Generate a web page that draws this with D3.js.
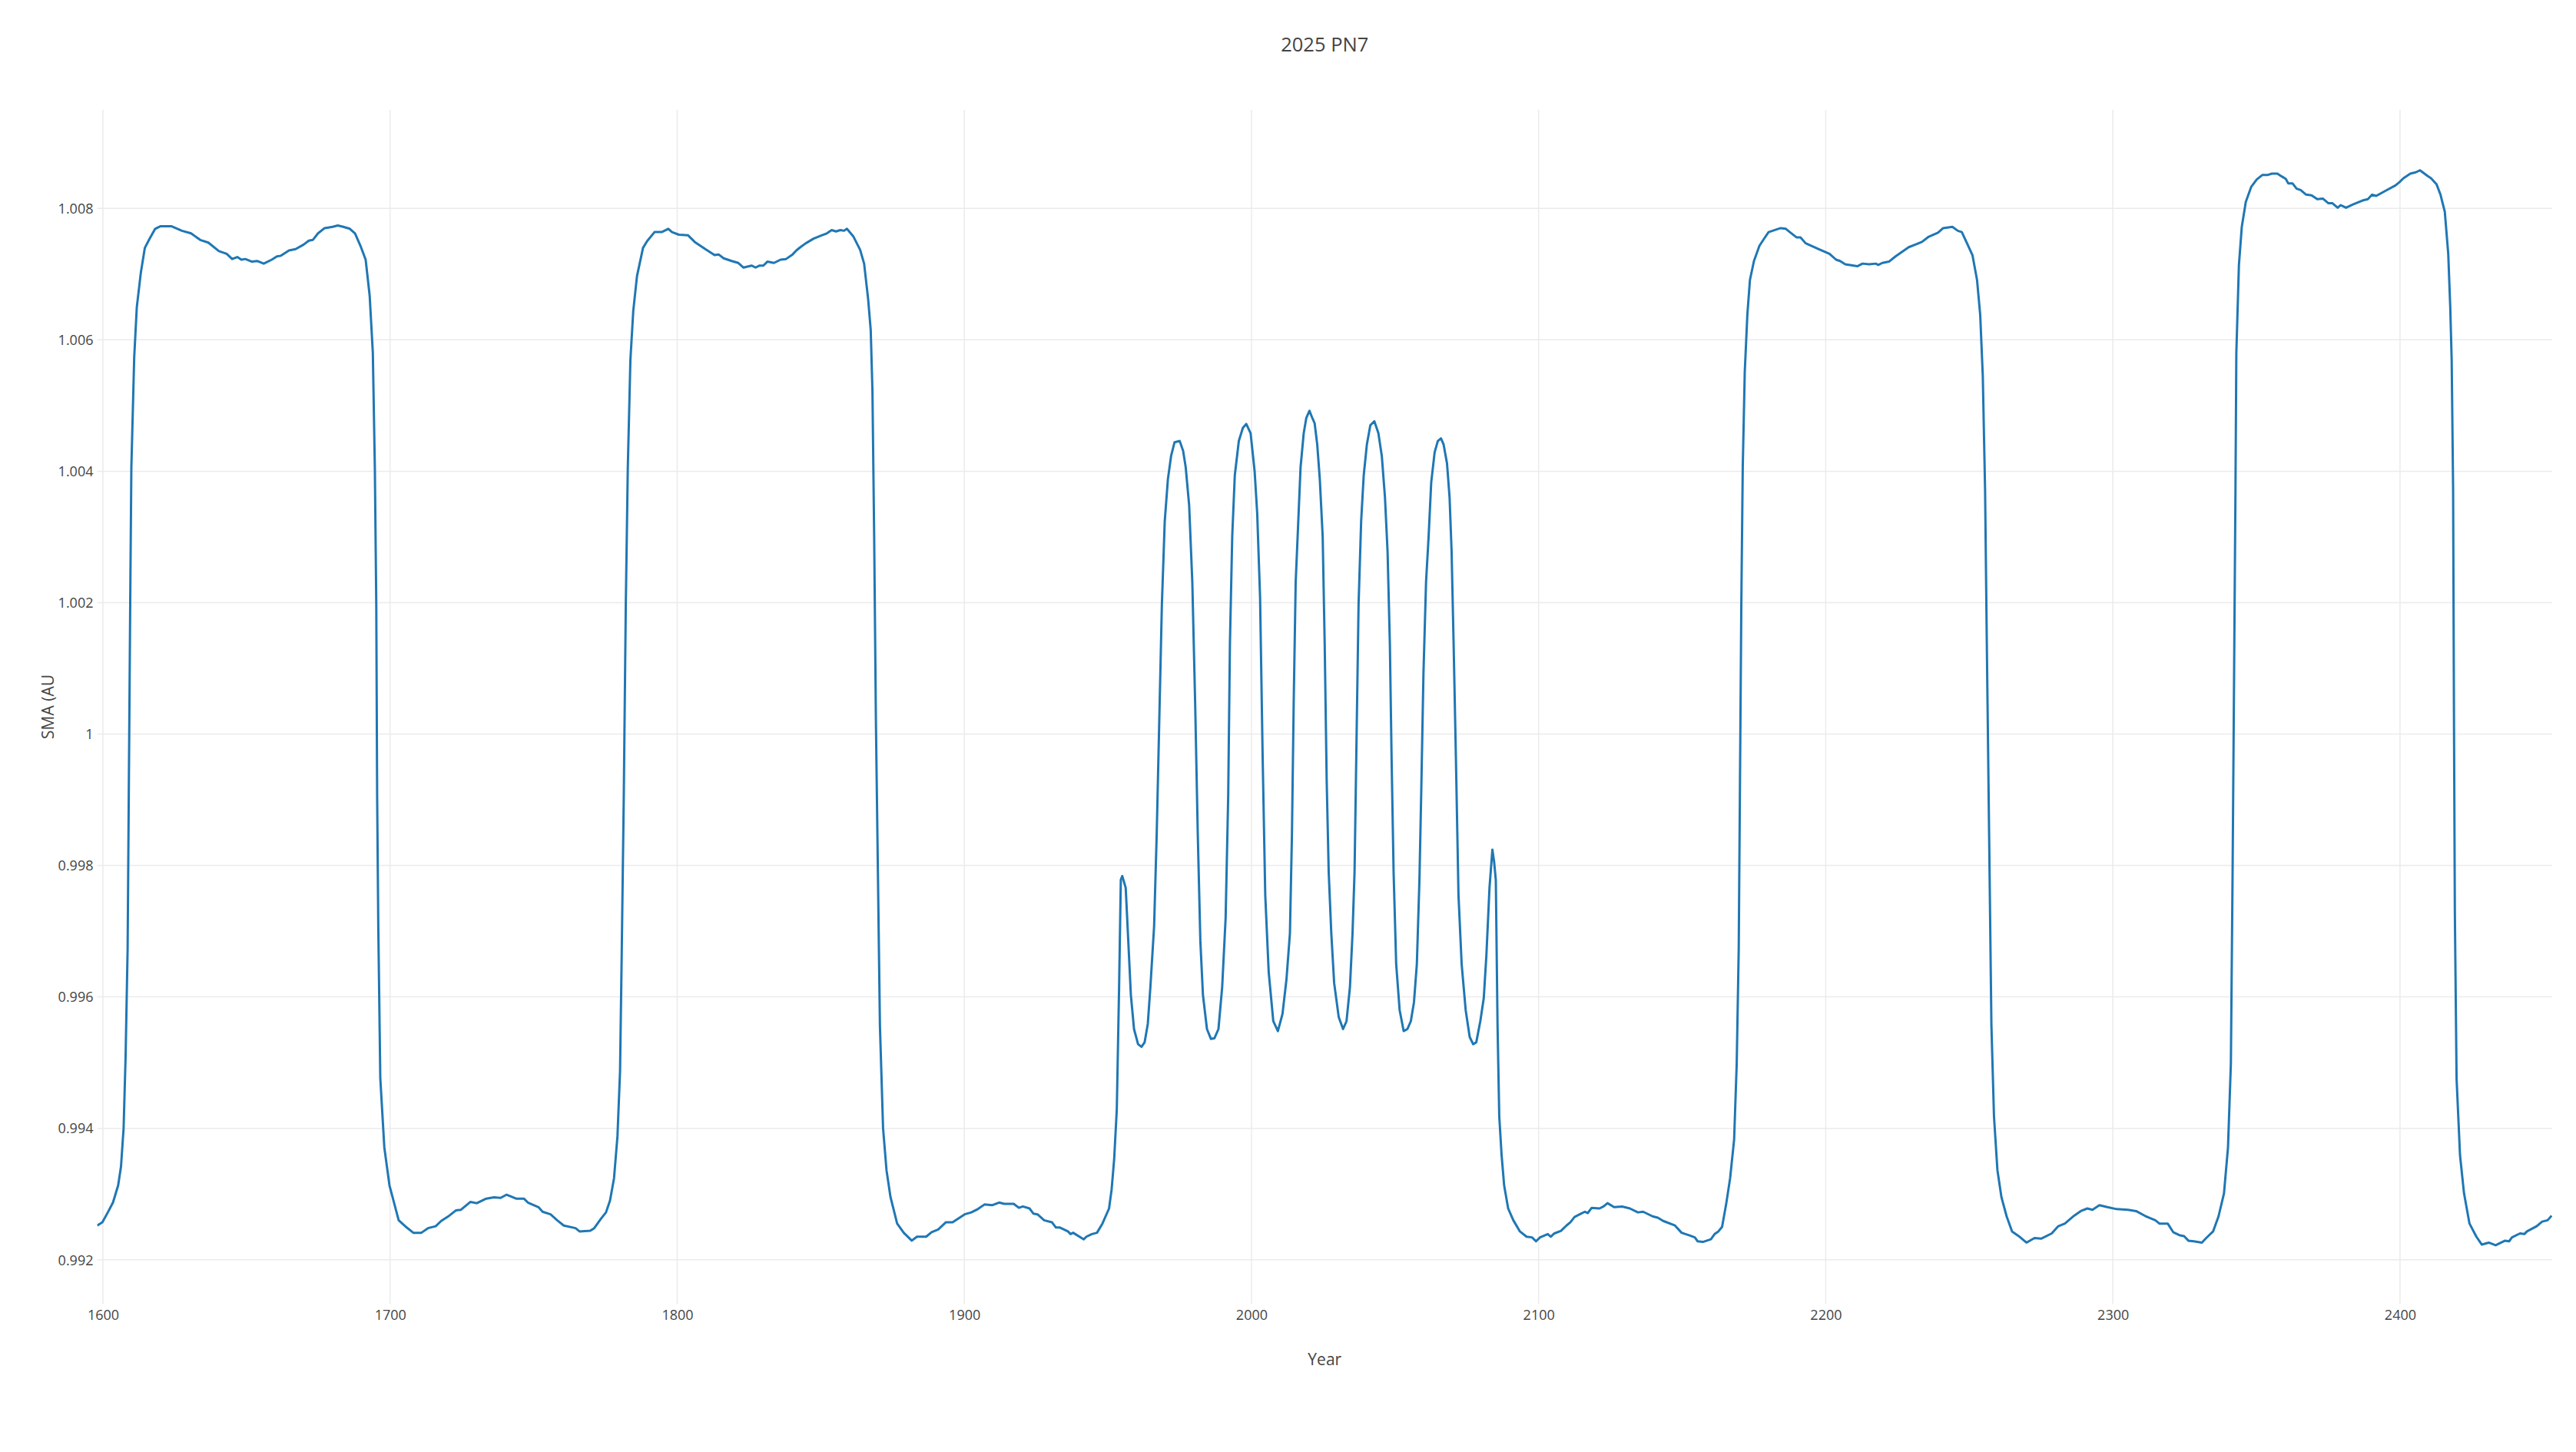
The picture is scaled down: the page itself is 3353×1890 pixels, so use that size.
<!DOCTYPE html>
<html>
<head>
<meta charset="utf-8">
<script src="https://cdn.jsdelivr.net/npm/d3@7"></script>
<style>
  html, body { margin: 0; padding: 0; background: #fff; }
  svg { display: block; font-family: "Open Sans", verdana, arial, sans-serif; }
</style>
</head>
<body>
<svg id="chart" width="3353" height="1890"></svg>
<script>
const chartTitle = "2025 PN7";
const xTitle = "Year";
const yTitle = "SMA (AU";

const xTicks = [1600, 1700, 1800, 1900, 2000, 2100, 2200, 2300, 2400];
const yTicks = [0.992, 0.994, 0.996, 0.998, 1.000, 1.002, 1.004, 1.006, 1.008];

const years = [
1598.0,1599.8,1601.7,1603.5,1605.3,1606.3,1607.2,1607.9,1608.6,1609.0,1609.5,1609.9,1610.9,1611.8,1613.2,1614.6,1616.4,1618.2,1620.1,1623.8,
1627.5,1630.7,1633.9,1636.7,1640.4,1643.1,1645.0,1646.8,1648.2,1649.6,1651.9,1653.7,1656.0,1658.8,1660.6,1662.0,1664.8,1667.1,1669.9,1671.7,
1673.1,1674.9,1677.2,1680.0,1681.8,1683.7,1686.0,1687.8,1689.7,1691.5,1692.9,1694.0,1694.7,1695.2,1695.5,1695.9,1696.6,1698.0,1699.8,1703.0,
1705.8,1708.1,1710.9,1713.2,1715.9,1717.8,1720.6,1722.9,1724.7,1728.0,1730.2,1733.5,1736.2,1738.5,1740.6,
1743.9,1746.6,1748.0,1751.7,1753.1,1755.9,1758.2,1760.5,1764.6,1766.0,1769.7,1771.1,1773.4,1775.2,1776.6,1778.0,1779.2,1780.1,1780.7,1781.4,
1782.1,1782.8,1783.7,1784.7,1786.0,1788.1,1789.5,1792.1,1794.6,1796.9,1798.2,1800.6,1803.8,1806.1,1809.8,1813.0,1814.4,1816.2,1819.0,1821.3,
1823.1,1825.9,1827.3,1828.7,1830.0,1831.4,1833.7,1836.0,1837.9,1840.2,1841.5,1842.9,1844.8,1847.5,1850.3,1852.1,1853.8,1855.3,1856.8,1858.1,
1859.1,1861.4,1863.7,1865.1,1866.5,1867.4,1868.0,1868.6,1869.2,1869.9,1870.6,1871.7,1872.9,1874.3,1876.6,1878.9,1881.7,
1883.5,1886.7,1888.6,1890.9,1893.6,1895.9,1900.1,1902.4,1904.7,1907.0,1909.8,1912.1,1913.9,1917.2,1919.0,1920.4,1922.7,1924.1,1925.5,1927.8,
1930.5,1931.9,1933.3,1936.1,1937.0,1937.9,1941.6,1942.5,1944.4,1946.2,1948.1,1950.4,1951.3,1952.2,1953.1,1953.9,1954.5,1955.0,1956.2,1957.1,
1958.0,1959.1,1960.5,1961.7,1962.8,1963.9,1964.8,1966.1,1967.0,1967.9,1968.8,1969.8,1970.9,1972.0,1973.2,1975.0,1976.2,1977.1,1978.3,1979.4,
1980.4,1981.3,1982.2,1983.1,1984.5,1985.9,1987.1,1988.5,1989.8,1991.0,1991.9,1992.5,1993.3,1994.2,1995.6,1997.0,1998.2,1999.7,2001.1,2002.0,
2003.0,2003.9,2004.8,2006.0,2007.6,2009.2,2010.8,2012.2,2013.4,2014.1,2014.7,2015.4,2016.2,2017.1,2018.2,2019.1,2020.2,
2021.1,2022.0,2022.9,2023.8,2024.8,2025.5,2026.2,2026.9,2027.8,2028.8,2030.4,2031.9,2033.1,2034.3,2035.2,2035.9,2036.5,2037.3,2038.2,2039.1,
2040.2,2041.4,2042.8,2044.2,2045.4,2046.5,2047.4,2048.2,2048.8,2049.5,2050.4,2051.6,2053.0,2054.3,2055.5,2056.6,2057.6,2058.5,2059.1,2059.9,
2060.8,2061.7,2062.6,2063.8,2064.9,2066.0,2066.9,2068.1,2069.0,2069.7,2070.4,2071.2,2072.1,2073.2,2074.6,2076.0,2077.2,2078.3,2079.7,2080.9,
2081.8,2082.9,2083.9,2084.5,2085.1,2085.7,2086.3,2087.1,2088.0,2089.4,2091.2,2093.5,2095.8,2097.7,2099.1,2100.5,2103.2,2104.2,2105.5,2107.8,
2109.7,2111.1,2112.5,2114.3,2116.1,2117.1,2118.5,2121.2,2122.6,2124.0,2126.3,2129.1,2131.8,2134.6,2136.4,2139.7,2141.5,2143.4,2147.5,2149.8,
2152.6,2154.4,2155.4,2157.2,2160.0,2161.3,
2162.6,2163.9,2165.3,2166.7,2168.1,2169.0,2169.7,2170.1,2170.6,2171.1,2171.8,2172.7,2173.6,2175.0,2176.9,2178.7,2180.1,2181.5,2184.3,2186.1,
2187.5,2189.8,2191.2,2193.0,2197.6,2201.3,2203.6,2205.0,2206.8,2211.0,2212.8,2215.1,2217.4,2218.3,2219.7,2222.0,2224.3,2226.6,2228.9,2231.2,
2233.5,2235.9,2239.1,2240.9,2244.1,2246.0,2247.4,2249.2,2251.1,2252.7,2253.8,2254.7,2255.5,2256.1,2256.9,2257.7,2258.6,2259.8,2261.2,2263.0,
2264.9,2267.2,2269.9,2272.7,2275.0,2278.7,2281.0,2283.3,2286.5,2288.8,2291.1,2292.9,2295.3,2298.1,2301.3,2305.3,
2308.1,2311.5,2314.8,2316.2,2319.1,2321.0,2323.4,2324.8,2326.3,2328.2,2331.0,2332.5,2334.9,2336.8,2338.7,2340.1,2341.1,2341.7,2342.3,2342.7,
2343.0,2343.9,2344.9,2346.3,2348.2,2350.1,2352.1,2354.0,2355.4,2357.3,2358.7,2360.2,2361.1,2362.6,2364.0,2365.4,2367.3,2369.2,2371.2,2373.1,
2375.0,2376.4,2378.3,2379.3,2381.2,2383.6,2386.9,2388.8,2390.3,2391.7,2395.0,2398.4,2399.8,2401.2,2403.6,2405.5,2407.0,2409.4,2410.8,2412.7,
2414.1,2415.6,2416.8,2417.5,2418.0,2418.5,2418.8,2419.1,2419.7,2420.9,2422.3,2424.2,2426.6,2428.5,2430.9,2433.3,2436.6,2438.0,2439.0,2441.8,
2443.3,2444.2,2447.6,2449.5,2451.4,2452.8
];

const sma = [
0.99252,0.99257,0.99272,0.99287,0.99313,0.99342,0.99400,0.99510,0.99673,0.99906,1.00197,1.00406,1.00574,1.00650,1.00702,1.00740,1.00755,1.00769,1.00773,1.00773,
1.00766,1.00762,1.00752,1.00748,1.00735,1.00731,1.00723,1.00726,1.00722,1.00723,1.00719,1.00720,1.00716,1.00722,1.00727,1.00728,1.00736,1.00738,1.00745,1.00751,
1.00752,1.00762,1.00770,1.00772,1.00774,1.00772,1.00769,1.00762,1.00743,1.00722,1.00667,1.00580,1.00406,1.00197,0.99906,0.99708,0.99476,0.99371,0.99313,0.99260,
0.99249,0.99241,0.99241,0.99248,0.99251,0.99259,0.99267,0.99275,0.99276,0.99288,0.99286,0.99293,0.99295,0.99294,0.99299,
0.99293,0.99293,0.99287,0.99280,0.99273,0.99269,0.99260,0.99252,0.99248,0.99243,0.99244,0.99248,0.99262,0.99272,0.99290,0.99324,0.99388,0.99487,0.99673,0.99906,
1.00197,1.00406,1.00569,1.00644,1.00697,1.00740,1.00750,1.00764,1.00764,1.00769,1.00764,1.00760,1.00759,1.00749,1.00738,1.00729,1.00730,1.00724,1.00720,1.00717,
1.00710,1.00713,1.00710,1.00713,1.00713,1.00719,1.00717,1.00722,1.00723,1.00730,1.00736,1.00741,1.00747,1.00754,1.00759,1.00762,1.00767,1.00765,1.00767,1.00766,
1.00769,1.00757,1.00737,1.00716,1.00662,1.00615,1.00522,1.00301,1.00022,0.99790,0.99557,0.99400,0.99336,0.99295,0.99255,0.99241,0.99229,
0.99235,0.99235,0.99242,0.99246,0.99257,0.99257,0.99269,0.99272,0.99277,0.99284,0.99283,0.99287,0.99285,0.99285,0.99279,0.99281,0.99278,0.99270,0.99269,0.99260,
0.99257,0.99249,0.99249,0.99243,0.99239,0.99241,0.99231,0.99235,0.99239,0.99241,0.99255,0.99278,0.99307,0.99354,0.99429,0.99615,0.99778,0.99784,0.99766,0.99685,
0.99603,0.99551,0.99528,0.99524,0.99531,0.99559,0.99615,0.99708,0.99848,1.00022,1.00197,1.00324,1.00388,1.00423,1.00444,1.00446,1.00431,1.00406,1.00348,1.00231,
1.00045,0.99848,0.99685,0.99603,0.99551,0.99536,0.99537,0.99551,0.99615,0.99720,0.99906,1.00138,1.00301,1.00394,1.00446,1.00466,1.00472,1.00458,1.00400,1.00336,
1.00208,0.99964,0.99755,0.99638,0.99563,0.99548,0.99574,0.99627,0.99697,0.99848,1.00045,1.00231,1.00313,1.00406,1.00458,1.00481,1.00492,
1.00482,1.00473,1.00441,1.00388,1.00301,1.00138,0.99929,0.99790,0.99697,0.99621,0.99569,0.99551,0.99563,0.99615,0.99697,0.99790,0.99964,1.00197,1.00324,1.00394,
1.00441,1.00470,1.00476,1.00458,1.00423,1.00360,1.00278,1.00138,0.99964,0.99790,0.99650,0.99580,0.99548,0.99551,0.99563,0.99592,0.99650,0.99778,0.99906,1.00092,
1.00231,1.00301,1.00383,1.00429,1.00446,1.00450,1.00441,1.00412,1.00360,1.00278,1.00138,0.99964,0.99755,0.99650,0.99580,0.99539,0.99528,0.99531,0.99563,0.99598,
0.99662,0.99766,0.99824,0.99806,0.99778,0.99557,0.99418,0.99360,0.99313,0.99278,0.99260,0.99243,0.99235,0.99234,0.99228,0.99234,0.99239,0.99235,0.99240,0.99244,
0.99252,0.99257,0.99265,0.99269,0.99273,0.99271,0.99279,0.99278,0.99281,0.99286,0.99280,0.99281,0.99278,0.99272,0.99273,0.99266,0.99264,0.99259,0.99252,0.99241,
0.99237,0.99234,0.99228,0.99227,0.99231,0.99239,
0.99243,0.99250,0.99284,0.99324,0.99383,0.99499,0.99673,0.99906,1.00197,1.00406,1.00551,1.00638,1.00691,1.00720,1.00743,1.00755,1.00764,1.00766,1.00770,1.00769,
1.00764,1.00756,1.00756,1.00747,1.00738,1.00731,1.00722,1.00720,1.00715,1.00712,1.00716,1.00715,1.00716,1.00714,1.00717,1.00719,1.00727,1.00734,1.00741,1.00745,
1.00749,1.00757,1.00763,1.00770,1.00772,1.00766,1.00764,1.00747,1.00729,1.00691,1.00638,1.00545,1.00371,1.00138,0.99848,0.99557,0.99418,0.99336,0.99295,0.99266,
0.99243,0.99236,0.99226,0.99233,0.99232,0.99240,0.99251,0.99255,0.99267,0.99274,0.99278,0.99276,0.99283,0.99280,0.99277,0.99276,
0.99274,0.99266,0.99260,0.99255,0.99255,0.99242,0.99237,0.99236,0.99229,0.99228,0.99226,0.99233,0.99243,0.99266,0.99301,0.99371,0.99499,0.99790,1.00138,1.00371,
1.00580,1.00714,1.00772,1.00810,1.00833,1.00844,1.00851,1.00851,1.00853,1.00853,1.00849,1.00845,1.00838,1.00838,1.00830,1.00828,1.00821,1.00820,1.00814,1.00815,
1.00808,1.00808,1.00801,1.00805,1.00801,1.00806,1.00812,1.00814,1.00821,1.00819,1.00827,1.00835,1.00840,1.00846,1.00853,1.00855,1.00858,1.00850,1.00846,1.00837,
1.00821,1.00795,1.00731,1.00650,1.00569,1.00371,1.00022,0.99731,0.99476,0.99359,0.99301,0.99255,0.99235,0.99223,0.99226,0.99222,0.99229,0.99228,0.99234,0.99240,
0.99239,0.99243,0.99251,0.99258,0.99260,0.99267
];

const xDomain = [1598, 2453];
const yDomain = [0.99133, 1.0095];

const W = 3353, H = 1890;
const plot = { left: 126.5, right: 3322, top: 143, bottom: 1697 };

const svg = d3.select("#chart");
svg.append("rect").attr("width", W).attr("height", H).attr("fill", "#fff");

const x = d3.scaleLinear().domain(xDomain).range([plot.left, plot.right]);
const y = d3.scaleLinear().domain(yDomain).range([plot.bottom, plot.top]);

const gridColor = "#ebebeb";
const textColor = "#444";

// vertical grid
svg.append("g").selectAll("line").data(xTicks).join("line")
  .attr("x1", d => x(d)).attr("x2", d => x(d))
  .attr("y1", plot.top).attr("y2", plot.bottom)
  .attr("stroke", gridColor).attr("stroke-width", 1.5);

// horizontal grid
svg.append("g").selectAll("line").data(yTicks).join("line")
  .attr("x1", plot.left).attr("x2", plot.right)
  .attr("y1", d => y(d)).attr("y2", d => y(d))
  .attr("stroke", gridColor).attr("stroke-width", 1.5);

// axes (labels only, no domain lines)
const xAxis = d3.axisBottom(x).tickValues(xTicks).tickSize(0).tickPadding(0).tickFormat(d3.format("d"));
const gx = svg.append("g").attr("transform", `translate(0,${plot.bottom})`).call(xAxis);
gx.select(".domain").remove();
gx.selectAll("text").attr("y", 21).attr("dy", 0)
  .attr("font-family", '"Open Sans", verdana, arial, sans-serif')
  .attr("font-size", 18).attr("fill", textColor);

const yAxis = d3.axisLeft(y).tickValues(yTicks).tickSize(0).tickPadding(0).tickFormat(d3.format(".3~f"));
const gy = svg.append("g").attr("transform", `translate(${plot.left},0)`).call(yAxis);
gy.select(".domain").remove();
gy.selectAll("text").attr("x", -5).attr("dy", "0.35em")
  .attr("font-family", '"Open Sans", verdana, arial, sans-serif')
  .attr("font-size", 18).attr("fill", textColor);

// clip and line
svg.append("clipPath").attr("id", "clip").append("rect")
  .attr("x", plot.left).attr("y", plot.top)
  .attr("width", plot.right - plot.left).attr("height", plot.bottom - plot.top);

const line = d3.line().x((d, i) => x(years[i])).y(d => y(d));
svg.append("path")
  .attr("clip-path", "url(#clip)")
  .attr("d", line(sma))
  .attr("fill", "none")
  .attr("stroke", "#1f77b4")
  .attr("stroke-width", 3)
  .attr("stroke-linejoin", "round");

// titles
const cx = (plot.left + plot.right) / 2;
svg.append("text").attr("x", cx).attr("y", 67).attr("text-anchor", "middle")
  .attr("font-size", 25.5).attr("fill", textColor).text(chartTitle);

svg.append("text").attr("x", cx).attr("y", 1777).attr("text-anchor", "middle")
  .attr("font-size", 21).attr("fill", textColor).text(xTitle);

svg.append("text")
  .attr("transform", `translate(70,${(plot.top + plot.bottom) / 2}) rotate(-90)`)
  .attr("text-anchor", "middle")
  .attr("font-size", 21).attr("fill", textColor).text(yTitle);
</script>
</body>
</html>
